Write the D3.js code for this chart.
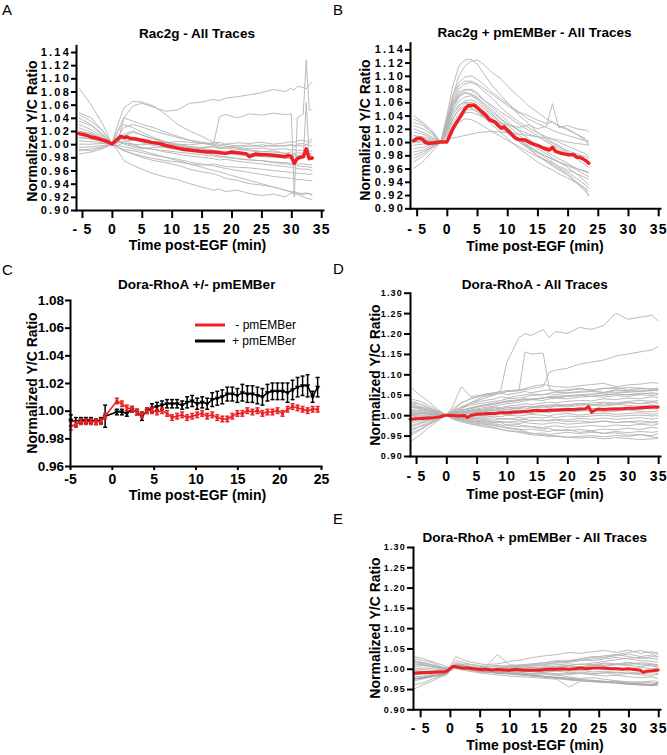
<!DOCTYPE html>
<html><head><meta charset="utf-8">
<script src="https://cdn.jsdelivr.net/npm/d3@7"></script>
<style>
body{margin:0;background:#fff;}
svg{display:block;font-family:"Liberation Sans",Arial,Helvetica,sans-serif;}
</style></head><body>
<svg id="fig" width="667" height="755"></svg>
<script>
// ---------------- DATA ----------------
const yTicksAB = [0.90,0.92,0.94,0.96,0.98,1.00,1.02,1.04,1.06,1.08,1.10,1.12,1.14];
const yTicksDE = [0.90,0.95,1.00,1.05,1.10,1.15,1.20,1.25,1.30];
const yTicksC = [0.96,0.98,1.00,1.02,1.04,1.06,1.08];
const xTicksMin = [-5,0,5,10,15,20,25,30,35];
const xTicksC = [-5,0,5,10,15,20,25];

// Panel A: Rac2g - All Traces
const timesA = [-5.5,-3.5,-1.5,0,1,2,3.5,5,7,9,11,13,15,17,18,19,21,23,25,27,29,30,30.5,31,32,32.5,33,33.5];
const tracesA = [
 [1.085,1.060,1.030,1.000,1.005,1.010,1.008,1.002,0.998,0.995,0.992,0.990,0.994,0.996,0.993,0.995,0.998,0.996,0.999,0.997,0.998,0.999,0.998,1.000,1.001,0.999,1.002,1.004],
 [1.045,1.035,1.020,1.000,1.030,1.055,1.065,1.064,1.058,1.045,1.030,1.020,1.012,1.003,1.000,0.997,0.994,0.991,0.989,0.988,0.986,0.984,0.985,0.983,0.982,0.984,0.983,0.982],
 [1.040,1.030,1.015,1.000,1.020,1.040,1.058,1.062,1.056,1.050,1.052,1.062,1.064,1.068,1.066,1.070,1.072,1.075,1.078,1.083,1.080,1.085,1.082,1.088,1.086,1.084,1.090,1.095],
 [1.020,1.015,1.008,1.000,0.998,1.002,1.000,0.999,1.001,0.998,1.000,0.999,1.001,1.000,1.042,1.045,1.040,1.046,1.044,1.047,1.045,1.046,0.920,1.040,1.046,1.128,1.052,1.052],
 [1.030,1.022,1.012,1.000,1.004,1.012,1.018,1.014,1.008,1.004,1.000,0.996,0.993,0.990,0.988,0.986,0.984,0.982,0.981,0.980,0.979,0.978,0.975,0.978,0.980,1.063,0.978,0.976],
 [0.990,0.993,0.996,1.000,0.990,0.975,0.968,0.962,0.955,0.950,0.946,0.940,0.935,0.930,0.932,0.928,0.930,0.925,0.922,0.924,0.920,0.926,0.924,0.925,0.923,0.925,0.924,0.922],
 [1.010,1.008,1.004,1.000,0.998,0.996,0.993,0.990,0.985,0.980,0.975,0.970,0.965,0.960,0.958,0.955,0.950,0.945,0.940,0.935,0.930,0.927,0.926,0.924,0.920,0.918,0.917,0.916],
 [1.025,1.018,1.010,1.000,0.995,0.992,0.990,0.987,0.983,0.980,0.977,0.973,0.970,0.967,0.965,0.963,0.960,0.957,0.954,0.951,0.949,0.948,0.947,0.946,0.946,0.945,0.945,0.944],
 [1.015,1.012,1.006,1.000,1.010,1.008,1.000,0.995,0.992,0.988,0.985,0.982,0.980,0.978,0.976,0.977,0.974,0.972,0.970,0.968,0.966,0.965,0.964,0.963,0.962,0.962,0.961,0.960],
 [0.995,0.996,0.998,1.000,1.005,1.002,0.998,0.994,0.992,0.990,0.988,0.986,0.984,0.982,0.980,0.981,0.978,0.976,0.975,0.972,0.970,0.969,0.968,0.967,0.966,0.966,0.965,0.964],
 [1.005,1.004,1.002,1.000,1.002,1.004,1.006,1.004,1.003,1.002,1.004,1.003,1.001,1.002,1.003,1.000,1.002,1.001,1.003,1.000,1.002,1.004,1.003,1.005,1.006,1.004,1.006,1.008],
 [1.000,1.000,1.001,1.000,1.008,1.015,1.020,1.014,1.008,1.002,0.998,0.995,0.993,0.991,0.990,0.988,0.987,0.986,0.985,0.984,0.983,0.982,0.982,0.981,0.981,0.980,0.980,0.980],
 [1.035,1.028,1.014,1.000,1.020,1.030,1.025,1.018,1.010,1.003,0.998,0.993,0.988,0.984,0.982,0.980,0.978,0.976,0.975,0.973,0.972,0.971,0.971,0.970,0.970,0.969,0.969,0.968],
 [0.985,0.988,0.993,1.000,1.004,1.000,0.996,0.993,0.995,0.996,0.994,0.996,0.995,0.997,0.994,0.996,0.995,0.993,0.994,0.992,0.993,0.991,0.992,0.990,0.991,0.990,0.989,0.990],
 [1.048,1.040,1.020,1.000,1.012,1.025,1.030,1.026,1.020,1.015,1.010,1.006,1.003,1.000,0.998,1.000,0.997,0.999,0.996,0.998,0.997,0.999,0.996,0.998,0.997,0.999,0.998,0.997],
 [1.020,1.016,1.008,1.000,0.995,0.990,0.986,0.982,0.978,0.975,0.973,0.970,0.968,0.970,0.968,0.966,0.965,0.964,0.962,0.960,0.958,0.957,0.956,0.956,0.955,0.955,0.954,0.955],
 [1.010,1.008,1.005,1.000,1.003,1.040,1.035,1.030,1.025,1.018,1.012,1.006,1.002,0.998,0.996,0.994,0.992,0.990,0.988,0.990,0.986,0.988,0.985,0.987,0.986,0.987,0.986,0.985],
 [0.992,0.990,0.995,1.000,0.996,0.990,0.985,0.980,0.975,0.972,0.968,0.962,0.958,0.955,0.952,0.948,0.945,0.940,0.938,0.935,0.930,0.928,0.928,0.926,0.925,0.926,0.925,0.924]
];
const meanTimesA = [-5.5,-4.5,-3.5,-2.5,-1.5,-0.5,0,0.5,1,1.5,2,2.5,3,4,5,6,7,8,9,10,11,12,13,14,15,16,17,18,19,20,21,22,22.5,23,24,25,26,27,28,29,29.5,30,30.5,31,31.5,32,32.5,33,33.5];
const meanA = [1.016,1.014,1.011,1.009,1.006,1.003,1.000,1.004,1.008,1.012,1.010,1.011,1.009,1.008,1.006,1.004,1.002,1.001,0.998,0.996,0.994,0.992,0.991,0.990,0.989,0.988,0.988,0.987,0.986,0.988,0.987,0.986,0.985,0.981,0.985,0.984,0.984,0.983,0.982,0.981,0.983,0.981,0.971,0.978,0.980,0.981,0.993,0.978,0.979];

// Panel B: Rac2g + pmEMBer - All Traces
const timesB = [-5.5,-4,-2.5,-1,0,1,2,3,4,5,6,7.5,9,10.5,12,13.5,15,16.5,17.5,18.5,20,21.5,23,23.5];
const tracesB = [
 [1.010,1.005,1.002,1.000,1.040,1.085,1.115,1.124,1.125,1.118,1.105,1.085,1.070,1.055,1.040,1.028,1.015,1.005,1.000,0.995,0.985,0.975,0.965,0.962],
 [0.980,0.985,0.992,1.000,1.030,1.070,1.100,1.115,1.122,1.124,1.118,1.105,1.095,1.080,1.068,1.055,1.045,1.035,1.030,1.025,1.020,1.012,1.005,1.000],
 [1.020,1.015,1.008,1.000,1.035,1.070,1.090,1.098,1.100,1.095,1.088,1.075,1.065,1.055,1.045,1.040,1.033,1.028,1.030,1.024,1.018,1.012,1.002,0.995],
 [1.030,1.025,1.015,1.000,1.030,1.060,1.080,1.088,1.090,1.086,1.078,1.066,1.052,1.040,1.030,1.022,1.014,1.008,1.004,1.000,0.994,0.988,0.982,0.978],
 [0.990,0.992,0.996,1.000,1.025,1.055,1.072,1.078,1.080,1.075,1.065,1.052,1.040,1.028,1.016,1.005,0.995,0.985,0.980,0.975,0.968,0.960,0.955,0.952],
 [1.000,1.002,1.001,1.000,1.020,1.050,1.068,1.074,1.072,1.066,1.058,1.045,1.034,1.022,1.010,1.000,0.990,0.982,0.976,0.970,0.962,0.952,0.940,0.935],
 [1.040,1.030,1.018,1.000,1.022,1.048,1.062,1.068,1.070,1.064,1.055,1.042,1.030,1.018,1.005,0.995,0.985,0.975,0.970,0.962,0.955,0.945,0.935,0.930],
 [0.970,0.978,0.990,1.000,1.018,1.040,1.055,1.062,1.064,1.060,1.052,1.040,1.028,1.016,1.004,0.992,0.980,0.970,0.964,0.958,0.950,0.938,0.925,0.920],
 [0.960,0.970,0.985,1.000,1.015,1.035,1.050,1.058,1.060,1.056,1.048,1.036,1.025,1.012,1.000,0.990,0.980,0.972,0.966,0.960,0.952,0.940,0.928,0.918],
 [1.010,1.008,1.004,1.000,1.012,1.030,1.042,1.048,1.050,1.046,1.040,1.030,1.020,1.010,1.000,0.992,0.984,0.978,0.974,0.970,0.965,0.958,0.950,0.948],
 [1.025,1.020,1.012,1.000,1.010,1.025,1.038,1.044,1.045,1.042,1.038,1.032,1.028,1.025,1.022,1.026,1.020,1.024,1.058,1.022,1.025,1.020,1.018,1.015],
 [0.975,0.982,0.992,1.000,1.008,1.020,1.030,1.035,1.034,1.030,1.024,1.016,1.008,1.000,0.993,0.985,0.978,0.972,0.968,0.964,0.958,0.952,0.946,0.944],
 [1.005,1.003,1.001,1.000,1.003,1.006,1.008,1.010,1.012,1.014,1.015,1.016,1.015,1.014,1.012,1.010,1.008,1.006,1.005,1.003,1.000,0.998,0.996,0.995],
 [1.035,1.028,1.015,1.000,1.028,1.058,1.075,1.080,1.078,1.072,1.064,1.055,1.045,1.036,1.026,1.018,1.010,1.000,0.995,0.990,0.984,0.978,0.972,0.970],
 [0.995,0.997,0.999,1.000,1.020,1.045,1.056,1.060,1.058,1.052,1.045,1.034,1.022,1.012,1.002,0.994,0.986,0.978,0.974,0.970,0.965,0.960,0.956,0.955],
 [1.015,1.012,1.006,1.000,1.025,1.055,1.070,1.075,1.073,1.068,1.060,1.048,1.035,1.025,1.018,1.012,1.008,1.002,0.998,0.993,0.987,0.982,0.978,0.975],
 [0.985,0.988,0.994,1.000,1.015,1.035,1.048,1.054,1.052,1.046,1.038,1.026,1.014,1.002,0.990,0.980,0.970,0.962,0.958,0.952,0.946,0.938,0.930,0.926],
 [1.000,1.000,1.001,1.000,1.030,1.065,1.085,1.092,1.092,1.088,1.082,1.072,1.062,1.052,1.044,1.035,1.028,1.022,1.018,1.014,1.010,1.006,1.002,1.000]
];
const meanTimesB = [-5.5,-5,-4.5,-4,-3.5,-3,-2,-1,0,0.5,1,1.5,2,2.5,3,3.5,4,4.5,5,5.5,6,6.5,7,7.5,8,8.5,9,9.5,10,10.5,11,11.5,12,13,14,15,16,17,17.5,18,19,20,21,21.5,22,22.5,23,23.5];
const meanB = [1.002,1.005,1.006,1.004,0.999,0.998,0.999,1.000,1.000,1.010,1.020,1.028,1.035,1.042,1.050,1.055,1.055,1.056,1.052,1.048,1.044,1.040,1.034,1.032,1.030,1.025,1.021,1.023,1.018,1.014,1.009,1.005,1.004,1.003,0.998,0.995,0.991,0.988,0.992,0.986,0.983,0.981,0.981,0.977,0.977,0.975,0.972,0.968];

// Panel C: Dora-RhoA +/- pmEMBer (mean +/- error)
const timesC = [-4.9,-4.3,-3.7,-3.1,-2.5,-1.9,-1.3,-0.8,0.6,1.2,1.8,2.4,3.0,3.6,4.2,4.8,5.4,6.0,6.6,7.2,7.8,8.4,9.0,9.6,10.2,10.8,11.4,12.0,12.6,13.2,13.8,14.4,15.0,15.6,16.2,16.8,17.4,18.0,18.6,19.2,19.8,20.4,21.0,21.6,22.2,22.8,23.4,24.0,24.6];
const minusEMBer = [0.989,0.990,0.992,0.992,0.992,0.992,0.992,0.996,1.007,1.005,1.002,1.001,0.999,0.997,1.000,1.000,0.999,1.000,0.998,0.995,0.996,0.997,0.995,0.996,0.997,0.998,0.996,0.997,0.995,0.994,0.994,0.996,0.998,0.998,1.000,0.999,1.000,0.998,0.999,0.999,1.000,0.998,1.001,1.003,1.002,1.001,1.000,1.001,1.001];
const minusEMBerErr = [0.003,0.002,0.002,0.002,0.002,0.002,0.002,0.002,0.002,0.002,0.002,0.002,0.002,0.002,0.002,0.002,0.002,0.002,0.002,0.002,0.002,0.002,0.002,0.002,0.002,0.002,0.002,0.002,0.002,0.002,0.002,0.002,0.002,0.002,0.002,0.002,0.002,0.002,0.002,0.002,0.002,0.002,0.002,0.002,0.002,0.002,0.002,0.002,0.002];
const plusEMBer = [0.993,0.992,0.993,0.993,0.993,0.992,0.993,0.996,0.999,0.999,0.998,1.001,0.999,0.996,1.000,1.002,1.003,1.004,1.005,1.005,1.005,1.004,1.006,1.007,1.005,1.006,1.005,1.008,1.009,1.010,1.012,1.012,1.011,1.013,1.012,1.012,1.011,1.010,1.013,1.014,1.014,1.014,1.013,1.015,1.017,1.018,1.018,1.010,1.017];
const plusEMBerErr = [0.004,0.003,0.002,0.002,0.002,0.002,0.002,0.008,0.002,0.002,0.002,0.002,0.002,0.003,0.002,0.003,0.003,0.003,0.003,0.003,0.003,0.003,0.004,0.004,0.004,0.004,0.004,0.005,0.005,0.005,0.005,0.005,0.005,0.006,0.006,0.006,0.006,0.006,0.006,0.006,0.006,0.006,0.007,0.007,0.007,0.007,0.008,0.004,0.007];

// Panel D: Dora-RhoA - All Traces
const timesD = [-6,-4.5,-3,-1.5,0,1,2.5,4,6,8,9,10,12,13,14,16,17,18,20,22,24,26,28,30,32,34,35];
const tracesD = [
 [1.020,1.015,1.010,1.005,1.000,1.010,1.020,1.030,1.040,1.050,1.062,1.130,1.190,1.200,1.195,1.210,1.190,1.205,1.200,1.215,1.210,1.220,1.250,1.235,1.240,1.245,1.230],
 [1.000,1.005,1.002,1.000,1.000,1.005,1.015,1.030,1.045,1.050,1.055,1.058,1.060,1.155,1.150,1.152,1.065,1.060,1.062,1.066,1.060,1.065,1.068,1.062,1.066,1.064,1.065],
 [0.990,0.995,0.998,1.000,1.000,1.010,1.030,1.040,1.050,1.055,1.052,1.058,1.060,1.062,1.065,1.070,1.105,1.110,1.115,1.125,1.130,1.135,1.145,1.150,1.155,1.160,1.168],
 [1.070,1.050,1.035,1.015,1.000,1.020,1.070,1.045,1.050,1.055,1.058,1.060,1.062,1.065,1.070,1.075,1.072,1.070,1.068,1.072,1.075,1.078,1.070,1.074,1.076,1.080,1.078],
 [1.040,1.035,1.025,1.012,1.000,1.015,1.030,1.040,1.048,1.052,1.055,1.050,1.055,1.058,1.055,1.060,1.062,1.058,1.060,1.064,1.062,1.066,1.065,1.068,1.066,1.064,1.066],
 [1.030,1.028,1.020,1.010,1.000,1.008,1.020,1.028,1.035,1.040,1.045,1.042,1.048,1.050,1.052,1.050,1.054,1.056,1.055,1.058,1.060,1.056,1.062,1.060,1.058,1.062,1.060],
 [1.025,1.020,1.015,1.008,1.000,1.004,1.010,1.018,1.025,1.030,1.032,1.035,1.038,1.040,1.038,1.042,1.045,1.044,1.046,1.048,1.050,1.048,1.052,1.050,1.052,1.055,1.052],
 [1.020,1.018,1.012,1.006,1.000,1.002,1.008,1.012,1.015,1.020,1.018,1.022,1.025,1.028,1.026,1.030,1.032,1.030,1.034,1.036,1.035,1.040,1.038,1.042,1.040,1.045,1.043],
 [1.010,1.012,1.008,1.004,1.000,0.998,1.002,1.005,1.008,1.012,1.015,1.014,1.018,1.020,1.022,1.020,1.024,1.026,1.025,1.028,1.030,1.032,1.030,1.034,1.036,1.034,1.036],
 [1.000,1.002,1.004,1.002,1.000,1.003,1.005,1.008,1.010,1.012,1.010,1.014,1.016,1.015,1.018,1.020,1.018,1.022,1.020,1.024,1.026,1.025,1.028,1.030,1.028,1.030,1.030],
 [0.990,0.994,0.996,0.998,1.000,1.004,1.006,1.010,1.012,1.015,1.016,1.018,1.020,1.022,1.020,1.024,1.025,1.022,1.026,1.028,1.025,1.022,1.026,1.024,1.022,1.025,1.022],
 [0.980,0.985,0.990,0.995,1.000,1.002,1.000,1.004,1.006,1.008,1.005,1.010,1.012,1.010,1.014,1.012,1.015,1.016,1.014,1.018,1.016,1.015,1.018,1.016,1.018,1.015,1.016],
 [0.975,0.980,0.988,0.994,1.000,0.998,0.996,1.000,0.998,1.002,1.004,1.000,1.005,1.006,1.004,1.008,1.006,1.010,1.008,1.010,1.012,1.008,1.010,1.012,1.010,1.008,1.010],
 [0.965,0.972,0.982,0.992,1.000,0.996,0.994,0.996,0.995,0.998,0.996,1.000,0.998,1.000,1.002,1.000,0.998,1.002,1.004,1.000,1.003,1.005,1.002,1.004,1.006,1.002,1.004],
 [0.950,0.962,0.975,0.988,1.000,0.994,0.990,0.992,0.990,0.988,0.992,0.990,0.994,0.992,0.995,0.993,0.996,0.994,0.998,0.996,0.998,1.000,0.997,0.999,1.000,0.998,0.999],
 [0.935,0.950,0.968,0.985,1.000,0.992,0.988,0.985,0.984,0.982,0.985,0.983,0.986,0.984,0.988,0.986,0.988,0.990,0.988,0.992,0.990,0.993,0.990,0.992,0.994,0.990,0.993],
 [1.015,1.010,1.005,1.003,1.000,0.995,0.992,0.990,0.986,0.985,0.984,0.982,0.980,0.982,0.980,0.978,0.980,0.982,0.978,0.980,0.982,0.985,0.982,0.984,0.986,0.983,0.985],
 [1.005,1.008,1.004,1.002,1.000,0.996,0.990,0.986,0.982,0.978,0.976,0.975,0.972,0.975,0.972,0.970,0.972,0.974,0.970,0.972,0.975,0.972,0.976,0.974,0.978,0.975,0.978],
 [0.995,0.998,1.000,1.001,1.000,0.994,0.988,0.982,0.978,0.974,0.972,0.970,0.966,0.964,0.966,0.962,0.960,0.964,0.962,0.965,0.962,0.966,0.964,0.968,0.965,0.970,0.968],
 [0.985,0.990,0.995,0.998,1.000,0.990,0.984,0.978,0.972,0.968,0.965,0.962,0.960,0.958,0.955,0.956,0.952,0.955,0.958,0.955,0.958,0.956,0.960,0.957,0.960,0.958,0.960],
 [1.030,1.022,1.015,1.008,1.000,0.992,0.985,0.980,0.975,0.970,0.966,0.962,0.958,0.955,0.952,0.950,0.948,0.950,0.946,0.948,0.950,0.947,0.950,0.948,0.952,0.950,0.955],
 [1.010,1.006,1.003,1.001,1.000,0.995,0.990,0.985,0.980,0.975,0.972,0.968,0.964,0.960,0.956,0.952,0.950,0.948,0.946,0.944,0.946,0.942,0.945,0.943,0.940,0.942,0.943],
 [0.970,0.978,0.986,0.994,1.000,1.004,1.008,1.012,1.018,1.022,1.025,1.028,1.032,1.035,1.038,1.036,1.040,1.042,1.040,1.044,1.046,1.044,1.048,1.046,1.050,1.048,1.050],
 [0.955,0.965,0.978,0.990,1.000,1.006,1.012,1.016,1.022,1.026,1.030,1.032,1.036,1.040,1.038,1.042,1.044,1.042,1.046,1.048,1.046,1.050,1.052,1.050,1.054,1.052,1.054],
 [1.035,1.028,1.018,1.008,1.000,1.010,1.018,1.024,1.030,1.034,1.036,1.040,1.042,1.045,1.048,1.050,1.052,1.050,1.054,1.056,1.058,1.055,1.060,1.058,1.062,1.060,1.062],
 [1.000,0.998,0.996,0.998,1.000,0.998,0.996,0.994,0.992,0.994,0.990,0.992,0.988,0.990,0.986,0.988,0.985,0.988,0.984,0.986,0.983,0.986,0.982,0.984,0.980,0.982,0.980],
 [0.990,0.992,0.994,0.997,1.000,1.002,1.004,1.006,1.008,1.006,1.010,1.008,1.012,1.010,1.008,1.012,1.010,1.014,1.010,1.012,1.016,1.014,1.012,1.016,1.014,1.018,1.015],
 [1.025,1.018,1.012,1.005,1.000,1.006,1.012,1.018,1.024,1.028,1.030,1.034,1.036,1.038,1.040,1.042,1.045,1.046,1.048,1.050,1.052,1.054,1.055,1.056,1.058,1.060,1.062],
 [0.960,0.972,0.978,0.991,1.000,0.997,0.995,0.989,0.987,0.981,0.982,0.976,0.977,0.971,0.972,0.966,0.968,0.962,0.965,0.958,0.961,0.955,0.957,0.951,0.953,0.947,0.945],
 [1.005,1.003,1.006,1.002,1.000,1.008,1.012,1.016,1.012,1.018,1.014,1.020,1.016,1.022,1.018,1.024,1.020,1.026,1.022,1.028,1.024,1.030,1.026,1.032,1.028,1.034,1.030]
];
const meanTimesD = [-6,-5,-4,-3,-2,-1,0,1,2,3,3.5,4,5,6,7,8,9,10,11,12,13,14,15,16,17,18,19,20,21,22,23,23.5,24,24.5,25,26,27,28,29,30,31,32,33,34,35];
const meanD = [0.990,0.991,0.992,0.993,0.994,0.996,1.000,0.999,0.998,0.999,0.994,0.999,1.002,1.003,1.004,1.004,1.006,1.006,1.007,1.008,1.009,1.010,1.012,1.011,1.012,1.012,1.013,1.014,1.014,1.015,1.016,1.021,1.007,1.012,1.015,1.014,1.015,1.015,1.016,1.017,1.017,1.018,1.019,1.020,1.020];

// Panel E: Dora-RhoA + pmEMBer - All Traces
const timesE = [-6,-4.5,-3,-1.5,-0.5,0,1,2.5,4,6,8,10,12,14,16,18,20,22,24,26,28,30,32,34,35];
const tracesE = [
 [1.030,1.025,1.018,1.010,1.005,1.000,1.010,1.005,1.000,0.998,1.002,1.005,1.008,1.012,1.015,1.020,1.018,1.025,1.030,1.028,1.035,1.030,1.025,1.030,1.028],
 [1.025,1.020,1.015,1.005,1.000,1.005,1.030,1.020,1.015,1.010,1.012,1.018,1.022,1.028,1.032,1.035,1.040,1.038,1.042,1.045,1.040,1.046,1.038,1.042,1.035],
 [0.950,0.960,0.970,0.980,0.985,0.995,1.010,1.005,1.000,0.995,0.998,0.996,1.000,0.998,1.002,1.005,1.008,1.004,1.010,1.008,1.012,1.010,1.015,1.012,1.010],
 [0.960,0.965,0.975,0.982,0.988,0.998,1.008,1.002,0.996,0.992,0.990,0.988,0.985,0.982,0.980,0.976,0.972,0.970,0.968,0.966,0.965,0.962,0.960,0.958,0.962],
 [0.975,0.978,0.982,0.985,0.990,0.998,1.005,1.000,0.996,0.994,0.990,0.988,0.986,0.983,0.980,0.978,0.975,0.972,0.970,0.968,0.966,0.963,0.962,0.960,0.965],
 [1.000,0.998,0.996,0.995,0.995,1.000,1.006,1.000,0.998,1.000,0.996,0.998,0.994,0.996,0.992,0.994,0.990,0.992,0.988,0.990,0.986,0.988,0.985,0.984,0.986],
 [1.010,1.008,1.004,1.000,0.998,1.002,1.012,1.008,1.004,1.002,1.000,1.004,1.006,1.010,1.012,1.015,1.018,1.022,1.020,1.024,1.028,1.024,1.020,1.018,1.016],
 [0.985,0.988,0.992,0.994,0.995,1.000,1.015,1.010,1.004,1.000,0.996,0.994,0.990,0.988,0.986,0.984,0.980,0.976,0.978,0.974,0.970,0.968,0.966,0.970,0.968],
 [0.995,0.992,0.990,0.992,0.994,1.000,1.008,1.012,1.010,1.006,1.008,1.004,1.006,1.002,1.004,1.006,1.008,1.012,1.010,1.014,1.012,1.016,1.012,1.010,1.008],
 [1.020,1.015,1.010,1.002,0.998,1.000,1.004,0.998,0.994,0.990,0.992,0.988,0.990,0.986,0.988,0.985,0.988,0.990,0.986,0.990,0.992,0.988,0.990,0.994,0.992],
 [0.970,0.975,0.980,0.986,0.990,0.996,1.002,0.998,0.996,0.998,1.002,1.000,1.004,1.008,1.010,1.014,1.016,1.020,1.024,1.028,1.032,1.036,1.030,1.034,1.030],
 [0.990,0.992,0.995,0.996,0.997,1.000,1.020,1.015,1.008,1.004,1.035,1.010,1.006,1.002,0.998,0.996,0.994,0.996,0.992,0.994,0.990,0.992,0.988,0.990,0.988],
 [1.015,1.012,1.008,1.004,1.000,1.002,1.000,0.996,0.992,0.988,0.985,0.982,0.980,0.978,0.976,0.974,0.955,0.970,0.972,0.968,0.966,0.964,0.962,0.960,0.958],
 [1.005,1.008,1.006,1.002,1.000,1.000,1.006,1.004,1.002,1.004,1.006,1.008,1.010,1.012,1.015,1.018,1.020,1.024,1.028,1.032,1.035,1.040,1.045,1.038,1.040],
 [0.980,0.982,0.986,0.990,0.992,0.998,1.004,1.000,0.998,0.996,0.995,0.996,0.994,0.996,0.998,1.000,0.998,1.002,1.000,1.004,1.002,1.000,1.003,1.000,1.002],
 [1.000,1.002,1.000,0.998,0.996,1.000,1.010,1.006,1.002,1.000,0.998,0.996,0.995,0.992,0.990,0.988,0.986,0.988,0.985,0.982,0.984,0.980,0.978,0.980,0.976],
 [0.985,0.986,0.988,0.990,0.992,1.000,1.006,1.002,0.998,0.996,0.994,0.992,0.990,0.988,0.992,0.996,1.000,1.004,1.008,1.012,1.010,1.014,1.010,1.006,1.004],
 [1.012,1.010,1.006,1.004,1.002,1.000,1.004,1.000,0.996,0.998,1.000,1.002,1.004,1.006,1.008,1.010,1.012,1.010,1.014,1.018,1.022,1.026,1.028,1.025,1.022],
 [0.995,0.994,0.992,0.990,0.990,0.998,1.010,1.006,1.000,0.996,0.992,0.990,0.986,0.982,0.980,0.976,0.974,0.972,0.970,0.968,0.970,0.966,0.968,0.965,0.964],
 [1.018,1.014,1.010,1.004,1.000,1.002,1.008,1.004,1.000,1.002,1.000,0.998,1.000,1.002,1.004,1.002,1.006,1.004,1.008,1.006,1.010,1.008,1.005,1.010,1.006]
];
const meanTimesE = [-6,-5,-4,-3,-2,-1,-0.5,0,0.5,1,2,3,4,5,6,7,8,9,10,11,12,13,14,15,16,17,18,19,20,21,22,23,24,25,26,27,28,29,30,31,32,32.5,33,34,35];
const meanE = [0.989,0.990,0.991,0.991,0.992,0.992,0.994,1.000,1.006,1.005,1.002,1.002,1.000,0.998,0.999,0.997,0.998,0.997,0.996,0.998,0.997,0.996,0.996,0.996,0.998,0.999,0.999,1.000,0.999,1.000,1.002,1.000,1.002,1.002,1.001,1.000,1.000,0.999,1.000,0.998,0.996,0.991,0.994,0.995,0.997];

// ---------------- DRAWING ----------------
const RED = "#ed2024";
const GRAY = "#b3b3b3";
const svg = d3.select("#fig");

function styleAxis(sel, fs, ls){
  sel.attr("font-family", null).attr("font-size", null);
  sel.select(".domain").attr("stroke","#000").attr("stroke-width",2).attr("stroke-linecap","square");
  sel.selectAll(".tick line").attr("stroke","#000").attr("stroke-width",2);
  sel.selectAll(".tick text").attr("fill","#000")
    .style("font-size",fs+"px").style("font-weight","bold").style("letter-spacing",ls+"px");
}
function textAt(x,y,str,opts){
  const t = svg.append("text").attr("x",x).attr("y",y).text(str)
    .attr("text-anchor",opts.anchor||"middle")
    .style("font-size",(opts.size||14)+"px").style("font-weight",opts.weight||"bold").attr("fill","#000");
  if(opts.rotate) t.attr("transform",`rotate(-90,${x},${y})`).attr("dy","0.35em");
  return t;
}

function tracePanel(p){
  const x = d3.scaleLinear().domain(p.xd).range([p.left,p.right]);
  const y = d3.scaleLinear().domain(p.yd).range([p.bottom,p.top]);
  const line = d3.line().defined(d=>d[1]!=null).x(d=>x(d[0])).y(d=>y(d[1]));
  const g = svg.append("g");
  g.selectAll("path.trace").data(p.traces).join("path").attr("class","trace")
    .attr("d", tr => line(p.times.map((t,j)=>[t,tr[j]])))
    .attr("fill","none")
    .attr("stroke",(d,i)=> i===p.heavy ? "#a0a0a0" : GRAY)
    .attr("stroke-width",(d,i)=> i===p.heavy ? 2 : 0.9)
    .attr("stroke-linejoin","round");
  g.append("path").attr("d", line(p.mt.map((t,j)=>[t,p.mv[j]])))
    .attr("fill","none").attr("stroke",RED).attr("stroke-width",p.mw)
    .attr("stroke-linejoin","round").attr("stroke-linecap","round");
  const ya = g.append("g").attr("transform",`translate(${p.left},0)`)
    .call(d3.axisLeft(y).tickValues(p.yt).tickFormat(d3.format(".2f"))
      .tickSize(p.yts).tickSizeOuter(0).tickPadding(p.ytp));
  styleAxis(ya, p.yfs, p.yls);
  const xa = g.append("g").attr("transform",`translate(0,${p.bottom})`)
    .call(d3.axisBottom(x).tickValues(xTicksMin).tickFormat(d => d<0 ? "- "+(-d) : String(d))
      .tickSize(8).tickSizeOuter(0));
  styleAxis(xa, 14, 1.2);
  xa.selectAll(".tick text").attr("dy",null).attr("y", p.xlb - p.bottom);
  textAt(p.tx, p.ty, p.title, {size:13.5});
  textAt(p.xtx, p.xty, "Time post-EGF (min)", {size:14});
  textAt(p.ytx, p.yty, "Normalized Y/C Ratio", {size:14, rotate:true});
  textAt(p.lx, p.ly, p.label, {size:15, weight:"normal", anchor:"start"});
}

tracePanel({label:"A", lx:2, ly:15, title:"Rac2g - All Traces", tx:197, ty:38,
  xd:[-6,35.3], left:76, right:323, yd:[0.90,1.15], bottom:210, top:45.4,
  yt:yTicksAB, yts:5, ytp:0, yfs:11, yls:2.2, xlb:233.5, xtx:197.5, xty:250, ytx:32, yty:131,
  times:timesA, traces:tracesA, mt:meanTimesA, mv:meanA, mw:3.5});

tracePanel({label:"B", lx:333, ly:15, title:"Rac2g + pmEMBer - All Traces", tx:534.5, ty:37,
  xd:[-6.1,35.3], left:410, right:660, yd:[0.90,1.15], bottom:208.3, top:42.7,
  yt:yTicksAB, yts:5, ytp:0, yfs:11, yls:2.2, xlb:234, xtx:535, xty:250.5, ytx:365, yty:130,
  times:timesB, traces:tracesB, mt:meanTimesB, mv:meanB, mw:3.5});

tracePanel({label:"D", lx:333, ly:273.5, title:"Dora-RhoA - All Traces", tx:534.7, ty:288.5,
  xd:[-6,35.3], left:410, right:660, yd:[0.90,1.30], bottom:456, top:292.7,
  yt:yTicksDE, yts:6, ytp:1, yfs:9, yls:1.2, xlb:481, xtx:535, xty:499, ytx:375, yty:375,
  times:timesD, traces:tracesD, mt:meanTimesD, mv:meanD, mw:3});

tracePanel({label:"E", lx:333, ly:524, title:"Dora-RhoA + pmEMBer - All Traces", tx:534.7, ty:541.7,
  xd:[-6.2,35.3], left:413, right:660, yd:[0.90,1.30], bottom:709.3, top:547,
  yt:yTicksDE, yts:6, ytp:1, yfs:9, yls:1.2, xlb:733.3, xtx:535, xty:750, ytx:375, yty:628,
  times:timesE, traces:tracesE, mt:meanTimesE, mv:meanE, mw:3, heavy:4});

// Panel C
(function(){
  const x = d3.scaleLinear().domain([-5,25]).range([70,321]);
  const y = d3.scaleLinear().domain([0.96,1.08]).range([466,300]);
  const g = svg.append("g");
  function series(vals, errs, color, marker){
    const pts = timesC.map((t,i)=>({t:t, v:vals[i], e:errs[i]}));
    g.append("path").attr("d", d3.line().x(d=>x(d.t)).y(d=>y(d.v))(pts))
      .attr("fill","none").attr("stroke",color).attr("stroke-width",1.5);
    const eb = g.append("g").attr("stroke",color).attr("stroke-width",1.5);
    eb.selectAll("line.v").data(pts).join("line").attr("class","v")
      .attr("x1",d=>x(d.t)).attr("x2",d=>x(d.t)).attr("y1",d=>y(d.v-d.e)).attr("y2",d=>y(d.v+d.e));
    eb.selectAll("line.top").data(pts).join("line").attr("class","top")
      .attr("x1",d=>x(d.t)-2).attr("x2",d=>x(d.t)+2).attr("y1",d=>y(d.v+d.e)).attr("y2",d=>y(d.v+d.e));
    eb.selectAll("line.bot").data(pts).join("line").attr("class","bot")
      .attr("x1",d=>x(d.t)-2).attr("x2",d=>x(d.t)+2).attr("y1",d=>y(d.v-d.e)).attr("y2",d=>y(d.v-d.e));
    if(marker==="tri"){
      g.selectAll(null).data(pts).join("path")
        .attr("d", d3.symbol().type(d3.symbolTriangle).size(12))
        .attr("transform",d=>`translate(${x(d.t)},${y(d.v)}) rotate(180)`).attr("fill",color);
    } else {
      g.selectAll(null).data(pts).join("rect")
        .attr("x",d=>x(d.t)-1.5).attr("y",d=>y(d.v)-1.5).attr("width",3).attr("height",3).attr("fill",color);
    }
  }
  series(plusEMBer, plusEMBerErr, "#000", "tri");
  series(minusEMBer, minusEMBerErr, RED, "sq");
  const ya = g.append("g").attr("transform","translate(70,0)")
    .call(d3.axisLeft(y).tickValues(yTicksC).tickFormat(d3.format(".2f")).tickSize(5).tickSizeOuter(0).tickPadding(1));
  styleAxis(ya, 13.5, 0);
  const xa = g.append("g").attr("transform","translate(0,466)")
    .call(d3.axisBottom(x).tickValues(xTicksC).tickFormat(d=>String(d)).tickSize(4).tickSizeOuter(0));
  styleAxis(xa, 14, 0);
  xa.selectAll(".tick text").attr("dy",null).attr("y", 484-466);
  // legend
  const leg = [{name:" - pmEMBer", color:RED, y:325},{name:"+ pmEMBer", color:"#000", y:341}];
  leg.forEach(l=>{
    g.append("line").attr("x1",195).attr("x2",225).attr("y1",l.y).attr("y2",l.y).attr("stroke",l.color).attr("stroke-width",3);
    g.append("text").attr("x",232).attr("y",l.y+4).text(l.name).style("font-size","12px").attr("fill","#000").attr("xml:space","preserve");
  });
  textAt(196.7, 289, "Dora-RhoA +/- pmEMBer", {size:13.5});
  textAt(197.5, 500, "Time post-EGF (min)", {size:14});
  textAt(32, 383, "Normalized Y/C Ratio", {size:14, rotate:true});
  textAt(2, 275, "C", {size:15, weight:"normal", anchor:"start"});
})();
</script></body></html>
